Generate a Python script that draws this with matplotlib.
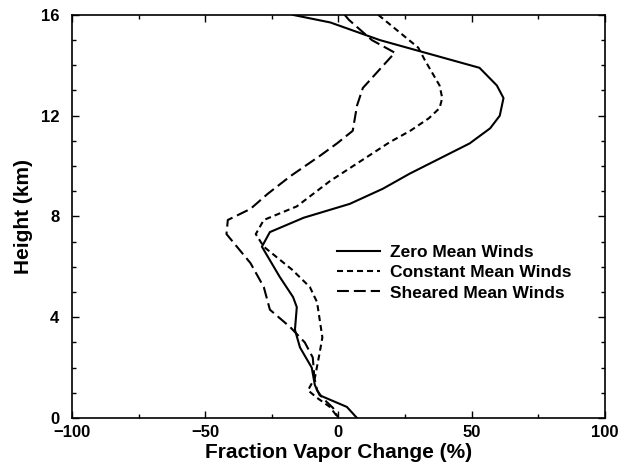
import matplotlib
matplotlib.use('Agg')
import matplotlib.pyplot as plt
from matplotlib.ticker import MultipleLocator

plt.rcParams['font.family'] = ['Liberation Sans', 'DejaVu Sans']
plt.rcParams['font.weight'] = 'bold'

# height (km) and fractional vapor change (%)
zero_h = [16, 15.7, 15.0, 13.9, 13.2, 12.7, 12.0, 11.5, 10.9, 9.7, 9.1, 8.5, 7.95,
          7.38, 6.8, 5.6, 4.8, 4.4, 3.5, 2.8, 2.0, 1.3, 0.9, 0.44, 0]
zero_v = [-17, -3, 15.6, 53, 59.5, 62, 60.6, 57, 49.3, 26.8, 16.7, 4.3, -13,
          -25.7, -28.7, -22, -17, -15.6, -16.3, -14.4, -10, -8.8, -7, 3.2, 7]

const_h = [16, 14.7, 14.2, 13.2, 12.7, 12.3, 11.9, 11.4, 10.95, 9.4, 8.4, 7.86,
           7.3, 6.8, 5.9, 5.2, 4.6, 3.2, 2.6, 1.6, 1.1, 0.8, 0.44, 0]
const_v = [15, 30, 32.5, 38, 39, 38, 34, 27, 19.3, -3.2, -15.6, -28,
           -31, -28, -17.5, -10.7, -8, -6, -7, -8.8, -11.4, -8, -3.2, 0]

shear_h = [16, 15.8, 15.0, 14.5, 13.1, 12.4, 11.9, 11.4, 10.9, 10.4, 9.6, 8.9,
           8.3, 7.86, 7.3, 6.15, 5.2, 4.3, 3.6, 3.0, 2.4, 1.6, 1.1, 0.8, 0.4, 0]
shear_v = [2.4, 4, 12.6, 21.2, 9.2, 7, 6.2, 5.4, -0.5, -7, -18, -26.5,
           -33, -41.5, -42, -33, -28, -25.7, -18, -12.6, -9.6, -9, -8, -6, -2, 0]

labels = ['Zero Mean Winds', 'Constant Mean Winds', 'Sheared Mean Winds']

fig = plt.figure(figsize=(6.26, 4.66), dpi=100)
ax = fig.add_axes([0.115, 0.103, 0.851, 0.865])

ax.plot(zero_v, zero_h, color='black', lw=1.5, label=labels[0])
ax.plot(const_v, const_h, color='black', lw=1.5, dashes=[2.9, 1.9], label=labels[1])
ax.plot(shear_v, shear_h, color='black', lw=1.5, dashes=[5.7, 2.4], label=labels[2])

ax.set_xlim(-100, 100)
ax.set_ylim(0, 16)
ax.xaxis.set_major_locator(MultipleLocator(50))
ax.xaxis.set_minor_locator(MultipleLocator(25))
ax.yaxis.set_major_locator(MultipleLocator(4))
ax.yaxis.set_minor_locator(MultipleLocator(1))
ax.tick_params(which='both', direction='in', top=True, right=True, labelsize=12)
ax.tick_params(axis='y', pad=9)
ax.tick_params(axis='x', pad=5)
ax.tick_params(which='major', length=5, width=1)
ax.tick_params(which='minor', length=3, width=1)
for s in ax.spines.values():
    s.set_linewidth(1.2)

ax.set_xlabel('Fraction Vapor Change (%)', fontsize=15, fontweight='bold', labelpad=2)
ax.set_ylabel('Height (km)', fontsize=15, fontweight='bold', labelpad=6)

ax.legend(loc='upper left', bbox_to_anchor=(0.497, 0.43), frameon=False,
          fontsize=12.5, handlelength=2.5, handletextpad=0.55, labelspacing=0.3,
          borderpad=0, borderaxespad=0)

fig.savefig('out.png', dpi=100)
